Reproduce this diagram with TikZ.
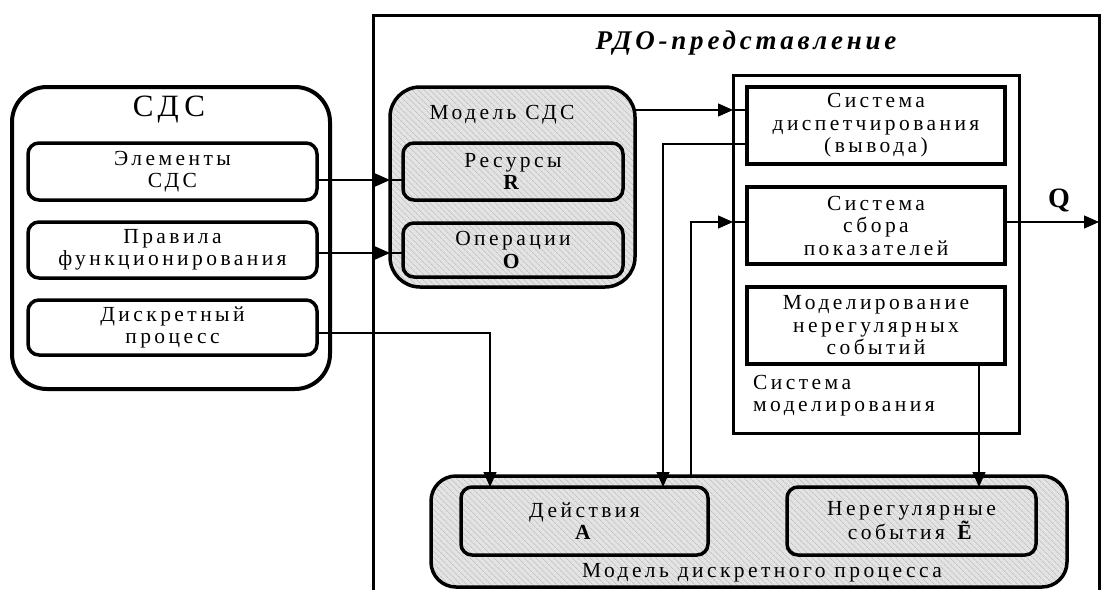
\documentclass[tikz,border=0pt]{standalone}
\usepackage{fontspec}
\setmainfont{Liberation Serif}
\newfontfamily\spcfont[LetterSpace=16]{Liberation Serif}
\newfontfamily\ttlfont[LetterSpace=14]{Liberation Serif}
\newfontfamily\sdsfont[LetterSpace=18]{Liberation Serif}
\usetikzlibrary{arrows.meta,patterns.meta,calc}
\newcommand\bodyfont{\spcfont\fontsize{21.5}{22.5}\selectfont}
\begin{document}
\begin{tikzpicture}[x=1pt,y=-1pt,
  frame/.style={draw, line width=3pt, inner sep=0pt, outer sep=0pt},
  rbox/.style={draw, line width=3.5pt, rounded corners=11pt, inner sep=0pt, outer sep=0pt, align=center, font=\bodyfont},
  sbox/.style={draw, line width=3.5pt, inner sep=0pt, outer sep=0pt, align=center, font=\bodyfont},
  hatch/.style={preaction={fill=gray!22}, pattern={Lines[angle=-45,distance=4pt,line width=0.6pt]}, pattern color=gray!60},
  txt/.style={font=\bodyfont, align=center, inner sep=0pt},
  ln/.style={line width=1.3pt},
  arr/.style={ln, -{Triangle[length=15pt,width=13pt]}}
]
\useasboundingbox (0,0) rectangle (1105,589);
\clip (0,0) rectangle (1105,589);

% RDO frame
\node[frame, minimum width=726pt, minimum height=605pt] (rdo) at (736,317.5) {};
\node[font=\ttlfont\bfseries\itshape\fontsize{27}{30}\selectfont, inner sep=0pt] (rdot) at (746,43) {РДО-представление};

% SDS
\node[frame, line width=4pt, rounded corners=35pt, minimum width=318pt, minimum height=302pt] (sds) at (171,238) {};
\node[font=\sdsfont\fontsize{31}{34}\selectfont, inner sep=0pt] (sdst) at (169,110) {СДС};
\node[rbox, minimum width=289pt, minimum height=57pt] (el) at (172.5,171.5) {Элементы\\СДС};
\node[rbox, minimum width=289pt, minimum height=56pt] (pr) at (172.5,250) {Правила\\функционирования};
\node[rbox, minimum width=289pt, minimum height=55pt] (dp) at (172.5,327.5) {Дискретный\\процесс};

% Model SDS
\node[frame, line width=3.5pt, rounded corners=30pt, hatch, minimum width=245pt, minimum height=200pt] (msds) at (512.5,187) {};
\node[txt] (msdst) at (502,115) {Модель СДС};
\node[rbox, minimum width=220pt, minimum height=57pt] (res) at (513,171.5) {Ресурсы\\\textbf{R}};
\node[rbox, minimum width=220pt, minimum height=54pt] (op) at (513,250) {Операции\\\textbf{O}};

% Simulation system
\node[frame, minimum width=286pt, minimum height=358pt] (sm) at (876,254) {};
\node[sbox, minimum width=258pt, minimum height=77pt] (sd) at (876,125.5) {Система\\диспетчирования\\(вывода)};
\node[sbox, minimum width=258pt, minimum height=77pt] (ss) at (876,225.5) {Система\\сбора\\показателей};
\node[sbox, minimum width=258pt, minimum height=77pt] (mn) at (876,325.5) {Моделирование\\нерегулярных\\событий};
\node[txt, align=left, anchor=north west] (smt) at (753,375) {Система\\моделирования};

% Discrete process model
\node[frame, line width=3.5pt, rounded corners=25pt, hatch, minimum width=636pt, minimum height=111pt] (mdp) at (749,531.5) {};
\node[rbox, minimum width=247pt, minimum height=68pt] (act) at (584.5,521) {Действия\\\textbf{A}};
\node[rbox, minimum width=249pt, minimum height=68pt] (ne) at (911.5,521) {Нерегулярные\\события \textbf{Ẽ}};
\node[txt] (mdpt) at (762,573) {Модель дискретного процесса};

\node[font=\bfseries\fontsize{28}{30}\selectfont, inner sep=0pt] (q) at (1059,200) {Q};

% connectors
\coordinate (c1) at ([yshift=-8.5pt]el.east);
\draw[arr] (c1) -- (c1 -| msds.west);
\draw[ln] (c1 -| msds.west) -- (c1 -| res.west);

\coordinate (c2) at ([yshift=-3pt]pr.east);
\draw[arr] (c2) -- (c2 -| msds.west);
\draw[ln] (c2 -| msds.west) -- (c2 -| op.west);

\coordinate (c3) at ([yshift=15.5pt]sd.west);
\draw[arr] (c3 -| msds.east) -- (c3 -| sm.west);
\draw[ln] (c3 -| sm.west) -- (c3);

\coordinate (c4) at ([yshift=-18.5pt]sd.west);
\coordinate (c5) at ([xshift=78.5pt]act.north);
\draw[arr] (c4) -| (c5);

\coordinate (a2x) at ([xshift=106.5pt]act.north);
\coordinate (c7) at ([yshift=3.5pt]ss.west);
\draw[arr] (a2x |- mdp.north) |- (c7 -| sm.west);
\draw[ln] (c7 -| sm.west) -- (c7);

\coordinate (c8) at ([yshift=-5.5pt]dp.east);
\coordinate (c9) at ([xshift=-94.5pt]act.north);
\draw[arr] (c8) -| (c9);

\coordinate (c10) at ([xshift=103pt]mn.south);
\draw[arr] (c10) -- (c10 |- ne.north);

\coordinate (c11) at ([yshift=3.5pt]ss.east);
\draw[arr] (c11) -- (c11 -| rdo.east);
\end{tikzpicture}
\end{document}
